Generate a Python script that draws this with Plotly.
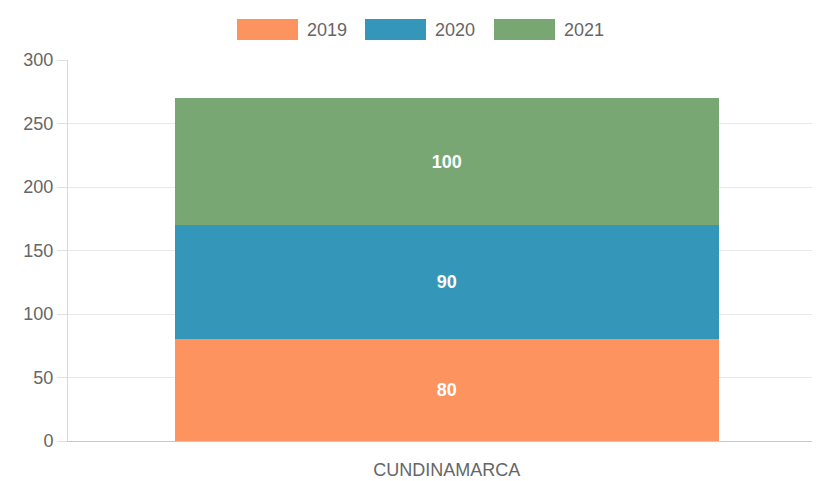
import plotly.graph_objects as go

# Data
categories = ["CUNDINAMARCA"]
years = ["2019", "2020", "2021"]
values_2019 = [80]
values_2020 = [90]
values_2021 = [100]
series_values = [values_2019, values_2020, values_2021]
colors = ["#fd9460", "#3497ba", "#79a774"]
y_ticks = [0, 50, 100, 150, 200, 250, 300]

W, H = 817, 481
ML, MR, MT, MB = 68, 5, 60, 40
PW, PH = W - ML - MR, H - MT - MB
FONT = "Liberation Sans"

fig = go.Figure()
for name, vals, col in zip(years, series_values, colors):
    fig.add_trace(go.Bar(
        x=categories, y=vals, name=name, marker=dict(color=col, line=dict(width=0)),
        text=[str(v) for v in vals], textposition="inside", insidetextanchor="middle",
        textfont=dict(color="white", size=18, family=FONT, weight="bold"),
        width=0.731, showlegend=False,
    ))

# Custom legend: wide colour boxes with labels above the plot
def px_x(p):
    return (p - ML) / PW

def px_y(p):
    return (H - MB - p) / PH

shapes = []
annotations = []
box_left = [237, 365, 494]
for left, name, col in zip(box_left, years, colors):
    shapes.append(dict(type="rect", xref="paper", yref="paper",
                       x0=px_x(left), x1=px_x(left + 61), y0=px_y(40), y1=px_y(19),
                       fillcolor=col, line=dict(width=0)))
    annotations.append(dict(xref="paper", yref="paper", x=px_x(left + 68), y=px_y(30),
                            text=name, showarrow=False, xanchor="left", yanchor="middle",
                            font=dict(size=18, color="#666666", family=FONT)))

fig.update_layout(
    width=W, height=H,
    margin=dict(l=ML, r=MR, t=MT, b=MB),
    barmode="stack",
    plot_bgcolor="white", paper_bgcolor="white",
    font=dict(family=FONT, size=18, color="#666666"),
    shapes=shapes, annotations=annotations,
    xaxis=dict(showgrid=False, showline=True, linecolor="#c8c8c8", linewidth=1,
               ticks="", ticklabelstandoff=12, automargin=False,
               tickfont=dict(size=18, color="#666666"), range=[-0.509, 0.491]),
    yaxis=dict(range=[0, 300], tickvals=y_ticks, showgrid=True, gridcolor="#e8e8e8",
               showline=True, linecolor="#d8d8d8", ticks="outside", ticklen=10,
               automargin=False, tickcolor="#e0e0e0",
               tickfont=dict(size=18, color="#666666"), zeroline=False),
)

fig.write_html("out.html")
